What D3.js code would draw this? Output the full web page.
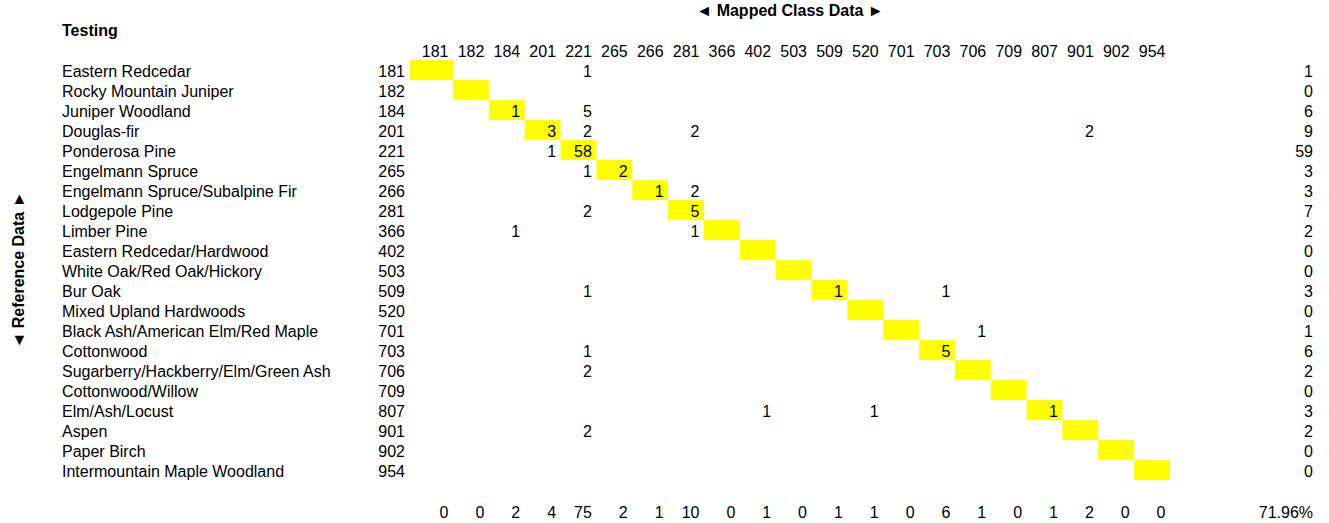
<html>
<head>
<meta charset="utf-8">
<title>Testing - Confusion Matrix</title>
<script src="https://cdn.jsdelivr.net/npm/d3@7"></script>
<style>
body {
  margin: 0px;
  background-color: #ffffff;
}
svg text {
  font: 16px "Liberation Sans", Arial, sans-serif;
  fill: #000000;
}
.bold text, text.bold {
  font-weight: bold;
}
</style>
</head>
<body>
<div class="target"></div>
<script>
// class codes (same list for reference rows and mapped columns)
var classCodes = [181, 182, 184, 201, 221, 265, 266, 281, 366, 402, 503, 509, 520, 701, 703, 706, 709, 807, 901, 902, 954];
var classNames = ["Eastern Redcedar", "Rocky Mountain Juniper", "Juniper Woodland", "Douglas-fir",
  "Ponderosa Pine", "Engelmann Spruce", "Engelmann Spruce/Subalpine Fir", "Lodgepole Pine",
  "Limber Pine", "Eastern Redcedar/Hardwood", "White Oak/Red Oak/Hickory", "Bur Oak",
  "Mixed Upland Hardwoods", "Black Ash/American Elm/Red Maple", "Cottonwood",
  "Sugarberry/Hackberry/Elm/Green Ash", "Cottonwood/Willow", "Elm/Ash/Locust", "Aspen",
  "Paper Birch", "Intermountain Maple Woodland"];
// [reference, mapped, count]
var counts = [
  [181, 221, 1],
  [184, 184, 1], [184, 221, 5],
  [201, 201, 3], [201, 221, 2], [201, 281, 2], [201, 901, 2],
  [221, 201, 1], [221, 221, 58],
  [265, 221, 1], [265, 265, 2],
  [266, 266, 1], [266, 281, 2],
  [281, 221, 2], [281, 281, 5],
  [366, 184, 1], [366, 281, 1],
  [509, 221, 1], [509, 509, 1], [509, 703, 1],
  [701, 706, 1],
  [703, 221, 1], [703, 703, 5],
  [706, 221, 2],
  [807, 402, 1], [807, 520, 1], [807, 807, 1],
  [901, 221, 2]
];

confusionMatrix('.target');

function confusionMatrix(target) {
  'use strict';

  var W = 1329, H = 523;
  var firstColLeft = 410, gridTop = 60, gridBottom = 480;

  var svg = d3.select(target)
    .append('svg')
      .attr("width", W)
      .attr("height", H);

  // first column is a bit wider than the others
  var x = d3.scaleBand()
    .domain(classCodes.slice(1))
    .range([453, 1170]);

  var y = d3.scaleBand()
    .domain(classCodes)
    .range([gridTop, gridBottom]);

  function colLeft(c) { return c === classCodes[0] ? firstColLeft : x(c); }
  function colRight(c) { return c === classCodes[0] ? x(classCodes[1]) : x(c) + x.bandwidth(); }

  var lookup = {};
  counts.forEach(function(d) { lookup[d[0] + "-" + d[1]] = d[2]; });

  var rowTotals = classCodes.map(function(r) {
    return d3.sum(counts.filter(function(d) { return d[0] === r; }), function(d) { return d[2]; });
  });
  var colTotals = classCodes.map(function(c) {
    return d3.sum(counts.filter(function(d) { return d[1] === c; }), function(d) { return d[2]; });
  });
  var correct = d3.sum(counts.filter(function(d) { return d[0] === d[1]; }), function(d) { return d[2]; });
  var accuracy = (100 * correct / d3.sum(rowTotals)).toFixed(2) + "%";

  // titles
  appendText("Testing", 62, 36, "start", "bold");
  appendText("\u25C4 Mapped Class Data \u25BA", (firstColLeft + 1170) / 2, 16, "middle", "bold");
  svg.append("text")
    .attr("class", "bold")
    .attr("transform", "translate(24," + (gridTop + gridBottom) / 2 + ") rotate(-90)")
    .attr("text-anchor", "middle")
    .text("\u25C4 Reference Data \u25BA");

  // diagonal cells
  svg.selectAll(".diag")
    .data(classCodes)
    .enter()
    .append("rect")
      .attr("class", "diag")
      .attr("x", function(c) { return colLeft(c); })
      .attr("y", function(c) { return y(c); })
      .attr("width", function(c) { return colRight(c) - colLeft(c); })
      .attr("height", y.bandwidth())
      .attr("fill", "#ffff00");

  // column header codes
  svg.selectAll(".colhead")
    .data(classCodes)
    .enter()
    .append("text")
      .attr("class", "colhead")
      .attr("x", function(c) { return colRight(c) - 4.5; })
      .attr("y", 57)
      .attr("text-anchor", "end")
      .text(function(c) { return c; });

  // row labels, codes and totals
  var rows = svg.selectAll(".row")
    .data(classCodes)
    .enter()
    .append("g")
      .attr("class", "row")
      .attr("transform", function(c) { return "translate(0," + (y(c) + 16.5) + ")"; });

  rows.append("text")
    .attr("x", 62)
    .text(function(c, i) { return classNames[i]; });

  rows.append("text")
    .attr("x", 405)
    .attr("text-anchor", "end")
    .text(function(c) { return c; });

  rows.append("text")
    .attr("x", 1313)
    .attr("text-anchor", "end")
    .text(function(c, i) { return rowTotals[i]; });

  // matrix counts
  svg.selectAll(".count")
    .data(counts)
    .enter()
    .append("text")
      .attr("class", "count")
      .attr("x", function(d) { return colRight(d[1]) - 4.5; })
      .attr("y", function(d) { return y(d[0]) + 16.5; })
      .attr("text-anchor", "end")
      .text(function(d) { return d[2]; });

  // column totals and overall accuracy
  svg.selectAll(".coltotal")
    .data(classCodes)
    .enter()
    .append("text")
      .attr("class", "coltotal")
      .attr("x", function(c) { return colRight(c) - 4.5; })
      .attr("y", 518)
      .attr("text-anchor", "end")
      .text(function(c, i) { return colTotals[i]; });

  appendText(accuracy, 1313, 518, "end");

  function appendText(txt, px, py, anchor, classname) {
    svg.append("text")
      .attr("class", classname || null)
      .attr("x", px)
      .attr("y", py)
      .attr("text-anchor", anchor)
      .text(txt);
  }
}
</script>
</body>
</html>
